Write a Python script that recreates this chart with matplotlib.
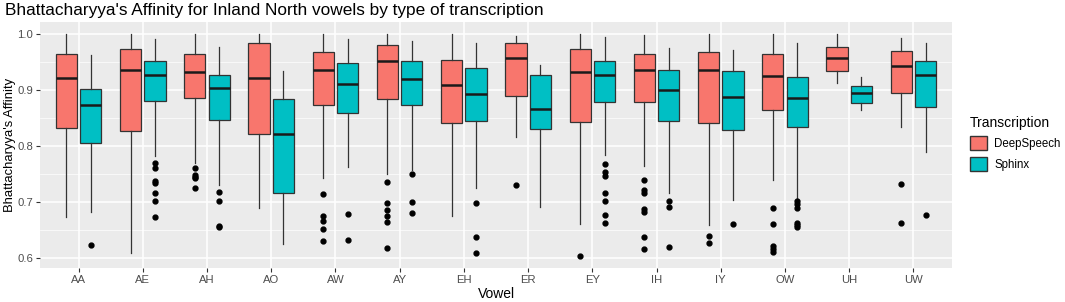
import numpy as np
import matplotlib.pyplot as plt
from matplotlib.patches import Patch

plt.rcParams['font.family'] = ['Liberation Sans', 'DejaVu Sans']

vowels = ["AA", "AE", "AH", "AO", "AW", "AY", "EH", "ER", "EY", "IH", "IY", "OW", "UH", "UW"]

# each row: whislo, q1, median, q3, whishi
deepspeech = [
    [0.674, 0.833, 0.922, 0.965, 1.000],
    [0.609, 0.827, 0.937, 0.974, 1.000],
    [0.771, 0.887, 0.933, 0.965, 1.000],
    [0.690, 0.822, 0.922, 0.984, 1.000],
    [0.743, 0.873, 0.937, 0.969, 1.000],
    [0.751, 0.884, 0.953, 0.981, 1.000],
    [0.676, 0.842, 0.909, 0.955, 1.000],
    [0.817, 0.890, 0.957, 0.984, 0.997],
    [0.661, 0.843, 0.933, 0.973, 1.000],
    [0.765, 0.880, 0.936, 0.965, 0.998],
    [0.659, 0.842, 0.936, 0.968, 1.000],
    [0.740, 0.865, 0.925, 0.965, 1.000],
    [0.913, 0.934, 0.958, 0.977, 1.000],
    [0.834, 0.896, 0.943, 0.971, 0.994],
]
sphinx = [
    [0.683, 0.806, 0.874, 0.902, 0.964],
    [0.783, 0.881, 0.928, 0.952, 0.992],
    [0.731, 0.847, 0.904, 0.927, 0.977],
    [0.625, 0.716, 0.822, 0.884, 0.935],
    [0.764, 0.860, 0.911, 0.948, 0.991],
    [0.758, 0.874, 0.920, 0.953, 0.988],
    [0.725, 0.846, 0.893, 0.940, 0.984],
    [0.692, 0.831, 0.866, 0.927, 0.946],
    [0.785, 0.880, 0.927, 0.952, 0.996],
    [0.716, 0.846, 0.901, 0.936, 0.976],
    [0.704, 0.829, 0.888, 0.934, 0.972],
    [0.708, 0.835, 0.886, 0.923, 0.984],
    [0.865, 0.877, 0.895, 0.908, 0.923],
    [0.790, 0.871, 0.927, 0.952, 0.984],
]
ds_out = [
    [],
    [],
    [0.762, 0.749, 0.746, 0.743, 0.726],
    [],
    [0.715, 0.676, 0.666, 0.653, 0.631],
    [0.737, 0.699, 0.686, 0.676, 0.665, 0.618],
    [],
    [0.731],
    [0.605],
    [0.740, 0.723, 0.716, 0.689, 0.683, 0.639, 0.617],
    [0.640, 0.627],
    [0.690, 0.662, 0.622, 0.617, 0.612],
    [],
    [0.733, 0.663],
]
sp_out = [
    [0.624],
    [0.771, 0.762, 0.739, 0.735, 0.717, 0.702, 0.674],
    [0.719, 0.703, 0.658, 0.656],
    [],
    [0.679, 0.633],
    [0.751, 0.701, 0.681],
    [0.699, 0.639, 0.610],
    [],
    [0.768, 0.754, 0.747, 0.717, 0.703, 0.677, 0.664],
    [0.702, 0.692, 0.621],
    [0.662],
    [0.702, 0.698, 0.690, 0.664, 0.659, 0.657],
    [],
    [0.678],
]

red = "#F8766D"
teal = "#00BFC4"
edge = "#333333"


def make_stats(rows, outs):
    stats = []
    for r, o in zip(rows, outs):
        stats.append(dict(whislo=r[0], q1=r[1], med=r[2], q3=r[3], whishi=r[4], fliers=o))
    return stats


fig = plt.figure(figsize=(10.65, 3.02), dpi=100)
ax = fig.add_axes([40 / 1065, 1 - 268 / 302, 912 / 1065, 246 / 302])
ax.set_facecolor("#EBEBEB")

x = np.arange(len(vowels))
for data, outs, off, col in [(deepspeech, ds_out, -0.19, red), (sphinx, sp_out, 0.19, teal)]:
    ax.bxp(make_stats(data, outs), positions=x + off, widths=0.33, patch_artist=True,
           showcaps=False,
           boxprops=dict(facecolor=col, edgecolor=edge, linewidth=0.9),
           whiskerprops=dict(color=edge, linewidth=0.9),
           medianprops=dict(color="#1a1a1a", linewidth=1.8),
           flierprops=dict(marker="o", markerfacecolor="black", markeredgecolor="black",
                           markersize=3.5, linestyle="none"),
           zorder=3)

ax.set_xlim(-0.6, len(vowels) - 0.4)
ax.set_ylim(0.583, 1.022)
ax.set_xticks(x)
ax.set_xticklabels(vowels)
ax.set_yticks([0.6, 0.7, 0.8, 0.9, 1.0])
ax.set_yticklabels(["0.6", "0.7", "0.8", "0.9", "1.0"])
ax.set_yticks([0.65, 0.75, 0.85, 0.95], minor=True)
ax.grid(True, which="major", color="white", linewidth=1.1, zorder=0)
ax.grid(True, which="minor", axis="y", color="white", linewidth=0.5, zorder=0)
ax.set_axisbelow(True)
for s in ax.spines.values():
    s.set_visible(False)
ax.tick_params(axis="both", which="major", colors=edge, labelcolor="#4D4D4D",
               labelsize=8.1, length=3, width=0.8, pad=2)
ax.tick_params(axis="y", which="minor", length=0)

ax.set_xlabel("Vowel", fontsize=10)
ax.xaxis.set_label_coords(0.5, -19 / 246)
ax.set_ylabel("Bhattacharyya's Affinity", fontsize=9.4)
ax.yaxis.set_label_coords(-24 / 912, 0.5)
fig.text(5 / 1065, 1 - 10 / 302, "Bhattacharyya's Affinity for Inland North vowels by type of transcription",
         fontsize=12.4, va="center", ha="left")

handles = [Patch(facecolor=red, edgecolor=edge, label="DeepSpeech"),
           Patch(facecolor=teal, edgecolor=edge, label="Sphinx")]
leg = fig.legend(handles=handles, title="Transcription", loc="upper left",
                 bbox_to_anchor=(970 / 1065, 1 - 116 / 302), frameon=False,
                 fontsize=8.3, title_fontsize=10, handlelength=1.5, handleheight=1.5,
                 labelspacing=0.55, handletextpad=0.6, borderaxespad=0, borderpad=0)
leg._legend_box.align = "left"

fig.savefig("out.png", dpi=100)
